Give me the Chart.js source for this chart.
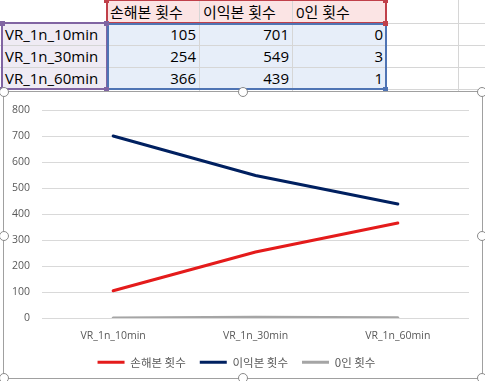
<!DOCTYPE html>
<html><head><meta charset="utf-8">
<script src="https://cdn.jsdelivr.net/npm/chart.js@4.4.1/dist/chart.umd.min.js"></script>
<style>
html,body{margin:0;padding:0;background:#fff;width:485px;height:381px;overflow:hidden;position:relative;
font-family:"Open Sans","Noto Sans CJK KR",sans-serif;}
.a{position:absolute;box-sizing:border-box;}
.t{position:absolute;font-size:15px;color:#000;line-height:22px;white-space:nowrap;font-family:"Open Sans","Noto Sans CJK KR",sans-serif;}
.h{position:absolute;width:10px;height:10px;border-radius:50%;background:#fff;border:1.5px solid #8a8a8a;box-sizing:border-box;}
</style></head>
<body>
<div id="sheet"></div>
<div class="a" style="left:4px;top:92px;width:478px;height:286px;background:#fff;">
  <canvas id="c" width="478" height="286" style="width:478px;height:286px;display:block;"></canvas>
</div>
<div class="a" style="left:3px;top:91px;width:480px;height:288px;border:1.5px solid #a0a0a0;pointer-events:none;"></div>
<div id="handles"></div>
<script>
const categories = ['VR_1n_10min', 'VR_1n_30min', 'VR_1n_60min'];
const seriesNames = ['손해본 횟수', '이익본 횟수', '0인 횟수'];
const lossCounts = [105, 254, 366];
const profitCounts = [701, 549, 439];
const zeroCounts = [0, 3, 1];
const yMin = 0, yMax = 800, yStep = 100;

// ---- spreadsheet backdrop ----
const sheet = document.getElementById('sheet');
function box(x, y, w, h, style) {
  const d = document.createElement('div'); d.className = 'a';
  d.style.cssText = `left:${x}px;top:${y}px;width:${w}px;height:${h}px;` + style;
  sheet.appendChild(d); return d;
}
function text(x, y, s, align, w) {
  const d = document.createElement('div'); d.className = 't';
  d.textContent = s;
  if (align === 'right') { d.style.left = (x - w) + 'px'; d.style.width = w + 'px'; d.style.textAlign = 'right'; }
  else d.style.left = x + 'px';
  d.style.top = y + 'px';
  sheet.appendChild(d);
}
const colX = [0, 106, 199, 292, 386, 458, 485];
const rowY = [23, 45, 67, 89];
box(106, 0, 280, 23, 'background:#fbe4e4;');
box(2, 23, 104, 66, 'background:#efebf4;');
box(106, 23, 280, 66, 'background:#e7eef9;');
rowY.forEach(y => box(0, y, 485, 1, 'background:#d6d6d6;'));
colX.slice(1, 6).forEach(x => box(x, 0, 1, 92, 'background:#d6d6d6;'));
box(106, -1, 281, 25, 'border:2px solid #c0404a;');
box(1, 22, 107, 68, 'border:2px solid #8064a2;');
box(107, 23, 280, 67, 'border:2px solid #4f74b4;');
[[104, -2, '#c0404a'], [383, -2, '#c0404a'], [383, 21, '#c0404a'],
 [0, 21, '#8064a2'], [104, 21, '#8064a2'], [0, 87, '#8064a2'], [104, 87, '#8064a2'],
 [383, 87, '#4f74b4']].forEach(([x, y, c]) => box(x, y, 5, 5, 'background:' + c + ';'));
seriesNames.forEach((s, i) => text(colX[i + 1] + 4, 1, s, 'left'));
categories.forEach((s, r) => text(5, rowY[r] + 0, s, 'left'));
[lossCounts, profitCounts, zeroCounts].forEach((arr, i) => {
  arr.forEach((v, r) => text(colX[i + 2] - 3, rowY[r], String(v), 'right', 80));
});
const hd = document.getElementById('handles');
[[4, 92], [243, 92], [482, 92], [4, 236], [482, 236], [4, 378], [243, 378], [482, 378]].forEach(([x, y]) => {
  const d = document.createElement('div'); d.className = 'h';
  d.style.left = (x - 5) + 'px'; d.style.top = (y - 5) + 'px'; hd.appendChild(d);
});

// ---- chart ----
const colors = ['#e41b1b', '#002060', '#a5a5a5'];
const tickFont = { family: '"Open Sans","Noto Sans CJK KR",sans-serif', size: 10.5 };
new Chart(document.getElementById('c'), {
  type: 'line',
  data: {
    labels: categories,
    datasets: [lossCounts, profitCounts, zeroCounts].map((d, i) => ({
      label: seriesNames[i], data: d, borderColor: colors[i], backgroundColor: colors[i],
      borderWidth: 3, pointRadius: 0, tension: 0, borderCapStyle: 'round', fill: false
    }))
  },
  options: {
    responsive: false, animation: false, devicePixelRatio: 1,
    layout: { padding: { left: 0, right: 13, top: 11, bottom: 0 } },
    plugins: {
      tooltip: { enabled: false },
      legend: {
        position: 'bottom',
        labels: {
          boxWidth: 27, boxHeight: 3, padding: 14, color: '#595959',
          font: { family: '"Noto Sans CJK KR","Open Sans",sans-serif', size: 11.5 },
          generateLabels(chart) {
            return chart.data.datasets.map((ds, i) => ({
              text: ds.label, fillStyle: ds.borderColor, strokeStyle: ds.borderColor,
              lineWidth: 0, hidden: false, datasetIndex: i, fontColor: '#595959'
            }));
          }
        }
      }
    },
    scales: {
      x: {
        offset: true,
        grid: { display: false, drawTicks: false },
        border: { display: false },
        ticks: { color: '#595959', font: tickFont, padding: 12, maxRotation: 0 },
        afterFit(s) { s.height = 24.5; }
      },
      y: {
        min: yMin, max: yMax,
        grid: { color: '#d9d9d9', drawTicks: false, lineWidth: 1 },
        border: { display: false },
        ticks: { stepSize: yStep, color: '#595959', font: tickFont, padding: 12 },
        afterFit(s) { s.width = 38; }
      }
    }
  }
});
</script>
</body></html>
